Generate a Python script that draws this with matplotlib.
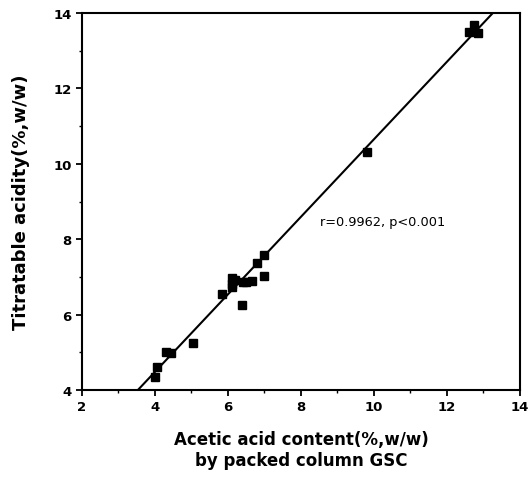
import matplotlib
matplotlib.use("Agg")
import matplotlib.pyplot as plt
from matplotlib.ticker import MultipleLocator

# acetic acid content by GSC vs titratable acidity
gsc = [4.0, 4.05, 4.3, 4.45, 5.04, 5.84, 6.1, 6.1, 6.12, 6.2, 6.4, 6.5, 6.65,
       6.38, 6.79, 6.99, 6.99, 9.81, 12.6, 12.75, 12.85]
acidity = [4.35, 4.61, 5.0, 4.97, 5.25, 6.55, 6.98, 6.82, 6.72, 6.92, 6.86, 6.86, 6.9,
           6.25, 7.37, 7.58, 7.02, 10.31, 13.5, 13.68, 13.48]

# regression line
slope = 1.028
intercept = 0.371
line_x = [3.0, 14.0]

plt.rcParams['font.family'] = ['DejaVu Sans']

fig = plt.figure(figsize=(5.3, 4.81), dpi=100)
ax = fig.add_axes([0.1547, 0.187, 0.8264, 0.784])

ax.plot(gsc, acidity, 's', color='black', markersize=6.3)
ax.plot(line_x, [slope * v + intercept for v in line_x], color='black', linewidth=1.5)

ax.set_xlim(2, 14)
ax.set_ylim(4, 14)
ax.xaxis.set_major_locator(MultipleLocator(2))
ax.xaxis.set_minor_locator(MultipleLocator(1))
ax.yaxis.set_major_locator(MultipleLocator(2))
ax.yaxis.set_minor_locator(MultipleLocator(1))
ax.tick_params(which='major', direction='out', length=4, width=1.3, labelsize=9.5)
ax.tick_params(which='minor', direction='out', length=2.5, width=1.0)
for lab in ax.get_xticklabels() + ax.get_yticklabels():
    lab.set_fontweight('bold')
for s in ax.spines.values():
    s.set_linewidth(1.5)

ax.text(8.52, 8.48, 'r=0.9962, p<0.001', fontsize=9.3, ha='left', va='center')

ax.set_xlabel('Acetic acid content(%,w/w)\nby packed column GSC',
              fontsize=12, fontweight='bold', labelpad=12, linespacing=1.2)
ax.set_ylabel('Titratable acidity(%,w/w)', fontsize=13, fontweight='bold', labelpad=17)

fig.savefig('out.png', dpi=100)
